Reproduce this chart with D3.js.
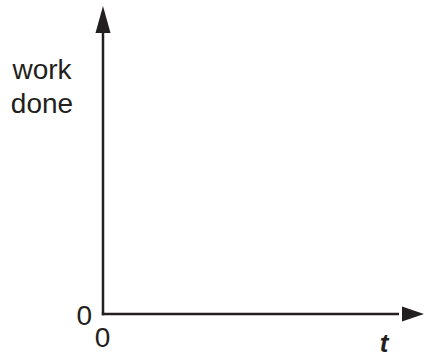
<!DOCTYPE html>
<html>
<head>
<meta charset="utf-8">
<script src="https://cdn.jsdelivr.net/npm/d3@7"></script>
<style>
  body { margin: 0; background: #fff; }
  text { font-family: "Liberation Sans", Arial, sans-serif; fill: #231f20; }
</style>
</head>
<body>
<svg width="425" height="358"></svg>
<script>
// axis labels and tick values
var yLabel = ['work', 'done'];
var xLabel = 't';
var xTicks = [0];
var yTicks = [0];

var svg = d3.select('svg');
var ink = '#231f20';

// blank axes, origin bottom left
var x = d3.scaleLinear().domain([0, 1]).range([103, 424]);
var y = d3.scaleLinear().domain([0, 1]).range([314, 6]);

var arrowLen = 27, arrowHalf = 7.5;

// vertical axis
svg.append('line')
    .attr('x1', x(0)).attr('y1', y(0) + 1.2)
    .attr('x2', x(0)).attr('y2', y(1) + arrowLen - 2)
    .attr('stroke', ink)
    .attr('stroke-width', 2.5);

svg.append('path')
    .attr('d', 'M' + x(0) + ',' + y(1) +
        'L' + (x(0) + arrowHalf) + ',' + (y(1) + arrowLen) +
        'L' + (x(0) - arrowHalf) + ',' + (y(1) + arrowLen) + 'Z')
    .attr('fill', ink);

// horizontal axis
svg.append('line')
    .attr('x1', x(0) - 1.2).attr('y1', y(0))
    .attr('x2', x(1) - arrowLen + 2).attr('y2', y(0))
    .attr('stroke', ink)
    .attr('stroke-width', 2.5);

svg.append('path')
    .attr('d', 'M' + x(1) + ',' + y(0) +
        'L' + (x(1) - arrowLen + 5) + ',' + (y(0) - arrowHalf) +
        'L' + (x(1) - arrowLen + 5) + ',' + (y(0) + arrowHalf) + 'Z')
    .attr('fill', ink);

// y label, two lines
svg.append('text')
    .attr('x', 42)
    .attr('y', 79)
    .attr('text-anchor', 'middle')
    .attr('font-size', 28)
    .selectAll('tspan')
    .data(yLabel)
    .enter()
    .append('tspan')
    .attr('x', 42)
    .attr('dy', function(d, i){ return i === 0 ? 0 : 34; })
    .text(function(d){ return d; });

// zeros
svg.selectAll('.ytick')
    .data(yTicks)
    .enter()
    .append('text')
    .attr('class', 'ytick')
    .attr('x', x(0) - 11)
    .attr('y', function(d){ return y(d) + 11; })
    .attr('text-anchor', 'end')
    .attr('font-size', 28)
    .text(function(d){ return d; });

svg.selectAll('.xtick')
    .data(xTicks)
    .enter()
    .append('text')
    .attr('class', 'xtick')
    .attr('x', function(d){ return x(d) - 0.5; })
    .attr('y', y(0) + 33)
    .attr('text-anchor', 'middle')
    .attr('font-size', 28)
    .text(function(d){ return d; });

// t label
svg.append('text')
    .attr('x', 384)
    .attr('y', 352)
    .attr('text-anchor', 'middle')
    .attr('font-size', 26)
    .attr('font-style', 'italic')
    .attr('font-weight', 'bold')
    .text(xLabel);
</script>
</body>
</html>
